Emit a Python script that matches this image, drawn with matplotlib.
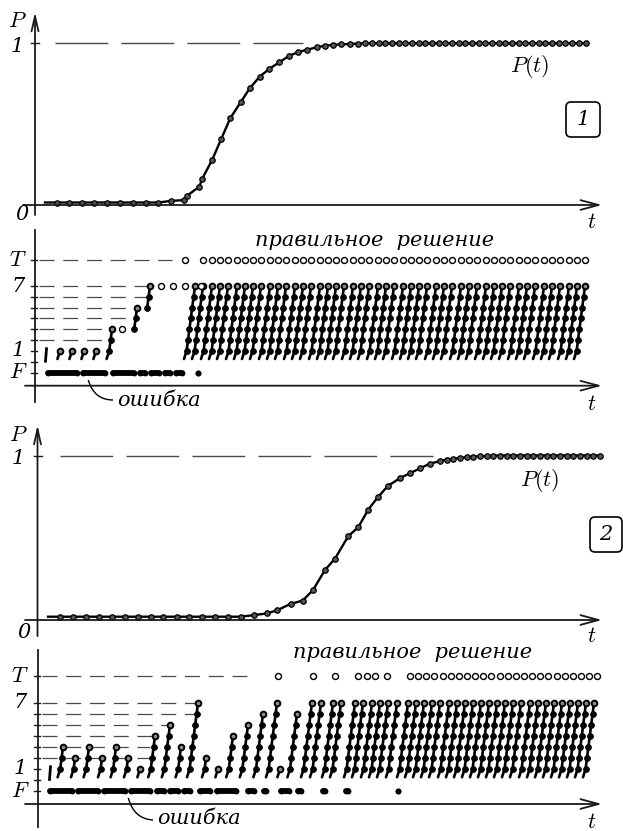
import matplotlib
matplotlib.use("Agg")
import matplotlib.pyplot as plt
from matplotlib.patches import FancyBboxPatch, PathPatch
from matplotlib.path import Path

plt.rcParams["mathtext.fontset"] = "cm"

# ------------------------------------------------------------------ data
T_LEVEL = 9.4     # level of the "T" row (correct solution)
F_LEVEL = -1      # level of the "F" row (error)

# ---- panel 1 : P(t)
p1_t = [45, 56.7, 69, 81.7, 94.3, 107, 120, 132.7, 145.7, 158.3,
        171, 183.7, 186.7, 199.3, 202.3, 212.3, 221.3, 230.3, 240.7, 250,
        259.7, 269.3, 279.3, 288.7, 298.3, 307.3, 316.7,
        325, 333, 341, 350, 358, 365,
        372, 379, 385, 392, 399, 405, 412, 419, 425, 432, 439, 445, 452,
        459, 465, 472, 479, 485, 492, 499, 505, 512, 519, 525, 532, 539,
        545, 552, 559, 565, 572, 579, 586]
p1_P = [0, 0, 0, 0, 0, 0, 0, 0, 0, 0,
        0.01, 0.015, 0.04, 0.10, 0.15, 0.27, 0.40, 0.53, 0.63, 0.72,
        0.79, 0.84, 0.88, 0.92, 0.945, 0.96, 0.975,
        0.985, 0.99, 0.993, 0.996, 0.998, 1.0,
        1, 1, 1, 1, 1, 1, 1, 1, 1, 1, 1, 1, 1,
        1, 1, 1, 1, 1, 1, 1, 1, 1, 1, 1, 1, 1,
        1, 1, 1, 1, 1, 1, 1]

# ---- panel 1 : attempts
p1_stub_t = [46]
p1_part_t = [60, 72, 84, 96, 112, 137, 150]
p1_part_lo = [1, 1, 1, 1, 1, 3, 5]
p1_part_hi = [1, 1, 1, 1, 3, 5, 7]
p1_full_t = [195, 203, 212, 220, 228, 237, 245, 253, 261, 270, 278, 286,
             295, 303, 311, 320, 328, 336, 344, 353, 361, 369, 378, 386,
             394, 403, 411, 419, 427, 436, 444, 452, 461, 469, 477, 486,
             494, 502, 510, 519, 527, 535, 544, 552, 560, 569, 577, 585]
p1_open_t = [122, 161, 173, 185, 201]
p1_open_lvl = [3, 7, 7, 7, 7]
p1_T_t = [185, 203, 212, 220, 228, 237, 245, 253, 261, 270, 278, 286,
          295, 303, 311, 320, 328, 336, 344, 353, 361, 369, 378, 386,
          394, 403, 411, 419, 427, 436, 444, 452, 461, 469, 477, 486,
          494, 502, 510, 519, 527, 535, 544, 552, 560, 569, 577, 585]
p1_F_start = [45, 80, 110, 137, 148, 162, 173, 195]
p1_F_end = [80, 108, 137, 148, 162, 173, 185, 201]
p1_guide_lvl = [T_LEVEL, 7, 6, 5, 4, 3, 2]
p1_guide_end = [172, 147, 147, 133, 131, 107, 107]

# ---- panel 2 : P(t)
p2_t = [48, 60, 72.7, 85.7, 98.7, 111.7, 124.7, 137.7, 150.7, 163.3, 176.7,
        189.3, 202, 215, 228, 241,
        254, 266.7, 277.3, 290.7, 302.7, 313, 325, 335, 348.3, 358.3, 368.3,
        377.7, 387.7, 400, 410, 420, 430, 440,
        447, 453, 460, 467, 473, 480, 487, 493, 500, 507, 513, 520, 527, 533,
        540, 547, 553, 560, 567, 573, 580, 587, 593, 600]
p2_P = [0, 0, 0, 0, 0, 0, 0, 0, 0, 0, 0, 0, 0, 0, 0, 0,
        0.01, 0.02, 0.04, 0.08, 0.10, 0.165, 0.29, 0.36, 0.50, 0.555, 0.665,
        0.74, 0.81, 0.86, 0.89, 0.92, 0.95, 0.965,
        0.975, 0.98, 0.985, 0.99, 0.993, 0.995, 0.997, 0.998, 1, 1, 1, 1, 1,
        1, 1, 1, 1, 1, 1, 1, 1, 1, 1, 1]

# ---- panel 2 : attempts
p2_stub_t = [50]
p2_part_t = [63, 75, 89, 102, 116, 128, 140, 155, 170, 181, 206, 218, 233,
             248, 263, 280, 297]
p2_part_lo = [1, 1, 1, 1, 1, 1, 1, 1, 1, 1, 1, 1, 1, 1, 1, 1, 1]
p2_part_hi = [3, 2, 3, 2, 3, 2, 1, 4, 5, 3, 2, 1, 4, 5, 6, 1, 6]
p2_full_t = [198, 277, 312, 321, 333, 341, 355, 363, 372, 380, 388, 397,
             408, 416, 424, 432, 440, 449, 457, 465, 473, 481, 489, 497,
             505, 513, 521, 530, 538, 546, 554, 562, 570, 578, 586, 594]
p2_open_t = []
p2_open_lvl = []
p2_T_t = [278, 313, 335, 358, 367, 375, 387, 410, 418, 426, 434, 443, 451,
          459, 467, 475, 483, 491, 500, 508, 516, 524, 532, 540, 548, 557,
          565, 573, 581, 589, 597]
p2_F_start = [47, 75, 101, 128, 154, 167, 181, 197, 214, 245, 261, 278, 295,
              320, 343, 395]
p2_F_end = [75, 101, 128, 153, 167, 181, 193, 213, 239, 257, 269, 292, 304,
            328, 351, 401]
p2_guide_lvl = [T_LEVEL, 7, 6, 5, 4, 3, 2]
p2_guide_end = [253, 196, 196, 168, 153, 150, 150]

tick_levels = [F_LEVEL, 0, 1, 2, 3, 4, 5, 6, 7, T_LEVEL]
tick_names = ["T", "7", "1", "F"]

# ------------------------------------------------------------------ figure
W, H = 623, 831
fig = plt.figure(figsize=(W / 100, H / 100), dpi=100)
AX = "#1a1a1a"
DASH = "#4a4a4a"


def make_axes(top, bottom, zero_px, px_per_unit):
    ax = fig.add_axes([0, 1 - bottom / H, 1, (bottom - top) / H])
    ax.set_xlim(0, W)
    ax.set_ylim((zero_px - bottom) / px_per_unit, (zero_px - top) / px_per_unit)
    ax.axis("off")
    return ax


axA = make_axes(0, 218, 202.5, 159.2)
axB = make_axes(218, 415, 361.7, 10.81)
axC = make_axes(415, 640, 616.7, 161.2)
axD = make_axes(640, 831, 780.0, 11.04)

ov = fig.add_axes([0, 0, 1, 1])
ov.set_xlim(0, W)
ov.set_ylim(H, 0)
ov.axis("off")


def arrow(x0, y0, x1, y1, hl, hw):
    ov.annotate("", xy=(x1, y1), xytext=(x0, y0),
                arrowprops=dict(arrowstyle=f"->,head_length={hl},head_width={hw}",
                                lw=1.3, color=AX, shrinkA=0, shrinkB=0))


def p_panel(ax, t, P, x0, dash_end):
    ax.plot([x0 + 20, dash_end], [1, 1], color=DASH, lw=1.0,
            linestyle=(0, (38, 9.5)), zorder=1)
    ax.plot(t, P, color="k", lw=1.7, zorder=3, marker="o", ms=3.9,
            mfc="#555555", mec="k", mew=0.9, markevery=list(range(1, len(t))))


p_panel(axA, p1_t, p1_P, 35, 303)
p_panel(axC, p2_t, p2_P, 40, 433)

SLANT = 1.4  # px per level (drawing style of a climb)


def attempts(ax, stub_t, part_t, part_lo, part_hi, full_t, open_t, open_lvl,
             T_t, F_s, F_e, guide_lvl, guide_end, x_axis):
    # guides
    for lv, xe in zip(guide_lvl, guide_end):
        ax.plot([x_axis + 4, xe], [lv, lv], color=DASH, lw=0.9,
                linestyle=(0, (12, 7)), zorder=1)
    # F row (error)
    r = 2.9
    for s, e in zip(F_s, F_e):
        a, b = s + r, e - r
        if b < a:
            a = b = (s + e) / 2
        ax.plot([a, b], [F_LEVEL, F_LEVEL], color="k", lw=4.2,
                solid_capstyle="round", marker="o", ms=4.2, mew=0, zorder=3)
    # stubs
    for x in stub_t:
        ax.plot([x - 0.5, x + 0.5], [0.05, 1.2], color="k", lw=2.0, zorder=3)
    cols = list(zip(part_t, part_lo, part_hi)) + [(x, 1, 7) for x in full_t]
    for x, lo, hi in cols:
        lv = list(range(lo, hi + 1))
        xs = [x - SLANT * (hi - L) for L in lv]
        lx, ly = list(xs), list(lv)
        if lo == 1:
            lx = [xs[0] - 2.6] + lx
            ly = [0.25] + ly
        ax.plot(lx, ly, color="k", lw=1.9, zorder=3, solid_capstyle="round")
        if hi > lo:
            ax.plot(xs[:-1], lv[:-1], "o", ms=4.2, mfc="k", mec="k", mew=0.6,
                    zorder=4)
        ax.plot(xs[-1], lv[-1], "o", ms=4.1, mfc="#8a8a8a", mec="k", mew=1.4,
                zorder=5)
    if open_t:
        ax.plot(open_t, open_lvl, "o", ms=4.3, mfc="white", mec="k", mew=1.0,
                zorder=5, linestyle="none")
    ax.plot(T_t, [T_LEVEL] * len(T_t), "o", ms=4.3, mfc="white", mec="k",
            mew=1.0, zorder=5, linestyle="none")
    for lv in tick_levels:
        ax.plot([x_axis - 4, x_axis + 2], [lv, lv], color=AX, lw=1.0, zorder=2)


attempts(axB, p1_stub_t, p1_part_t, p1_part_lo, p1_part_hi, p1_full_t,
         p1_open_t, p1_open_lvl, p1_T_t, p1_F_start, p1_F_end,
         p1_guide_lvl, p1_guide_end, 35)
attempts(axD, p2_stub_t, p2_part_t, p2_part_lo, p2_part_hi, p2_full_t,
         p2_open_t, p2_open_lvl, p2_T_t, p2_F_start, p2_F_end,
         p2_guide_lvl, p2_guide_end, 37.5)

# P-axis ticks at P = 1
axA.plot([31, 39], [1, 1], color=AX, lw=1.0)
axC.plot([33.5, 41.5], [1, 1], color=AX, lw=1.0)

# ------------------------------------------------------------------ axes lines
arrow(23, 205, 602, 205, 1.3, 0.35)
arrow(35, 215, 35, 12, 1.1, 0.25)
arrow(25, 385.7, 602, 385.7, 1.3, 0.35)
ov.plot([35, 35], [230, 402], color=AX, lw=1.3)
arrow(25, 620, 602, 620, 1.3, 0.35)
arrow(37.5, 636, 37.5, 425, 1.1, 0.25)
arrow(25, 804, 602, 804, 1.3, 0.35)
ov.plot([37.5, 37.5], [650, 827], color=AX, lw=1.3)

# ------------------------------------------------------------------ texts
DIG = dict(fontsize=15, family="DejaVu Serif", style="italic",
           ha="center", va="center")
MATH = dict(fontsize=16, ha="center", va="center")
RU = dict(fontsize=15, family="DejaVu Serif", style="italic", va="center")


def level_labels(x, ys):
    for name, y in zip(tick_names, ys):
        if name in ("T", "F"):
            ov.text(x, y, f"${name}$", **MATH)
        else:
            ov.text(x, y, name, **DIG)


# panel 1
ov.text(17, 21, "$P$", **MATH)
ov.text(17, 46, "1", **DIG)
ov.text(22, 214, "0", **DIG)
ov.text(592, 222, "$t$", **MATH)
ov.text(530, 67, "$P(t)$", **MATH)
level_labels(18, [260, 286, 351, 372.5])
ov.text(592, 404, "$t$", **MATH)
ov.text(375, 240, "правильное  решение", ha="center", **RU)
ov.text(117, 401, "ошибка", ha="left", **RU)

# panel 2
ov.text(18, 435, "$P$", **MATH)
ov.text(18, 459, "1", **DIG)
ov.text(24, 632, "0", **DIG)
ov.text(592, 636, "$t$", **MATH)
ov.text(540, 481, "$P(t)$", **MATH)
level_labels(20, [676, 702.7, 769, 791])
ov.text(592, 822, "$t$", **MATH)
ov.text(413, 653, "правильное  решение", ha="center", **RU)
ov.text(157, 819, "ошибка", ha="left", **RU)

# leaders to "ошибка"
for p0, p1, p2 in [((88.3, 380), (94, 400), (113, 400)),
                   ((128.3, 798), (134, 819), (153, 820))]:
    path = Path([p0, p1, p2], [Path.MOVETO, Path.CURVE3, Path.CURVE3])
    ov.add_patch(PathPatch(path, fc="none", ec="k", lw=1.0))

# numbered boxes
for (x0, y0, w, h, lab) in [(566, 102, 34, 35, "1"), (590, 517, 32, 35, "2")]:
    ov.add_patch(FancyBboxPatch((x0 + 4, y0 + 4), w - 8, h - 8,
                                boxstyle="round,pad=4,rounding_size=5",
                                fc="white", ec="k", lw=1.2))
    ov.text(x0 + w / 2, y0 + h / 2, lab, **DIG)

fig.savefig("out.png", dpi=100)
